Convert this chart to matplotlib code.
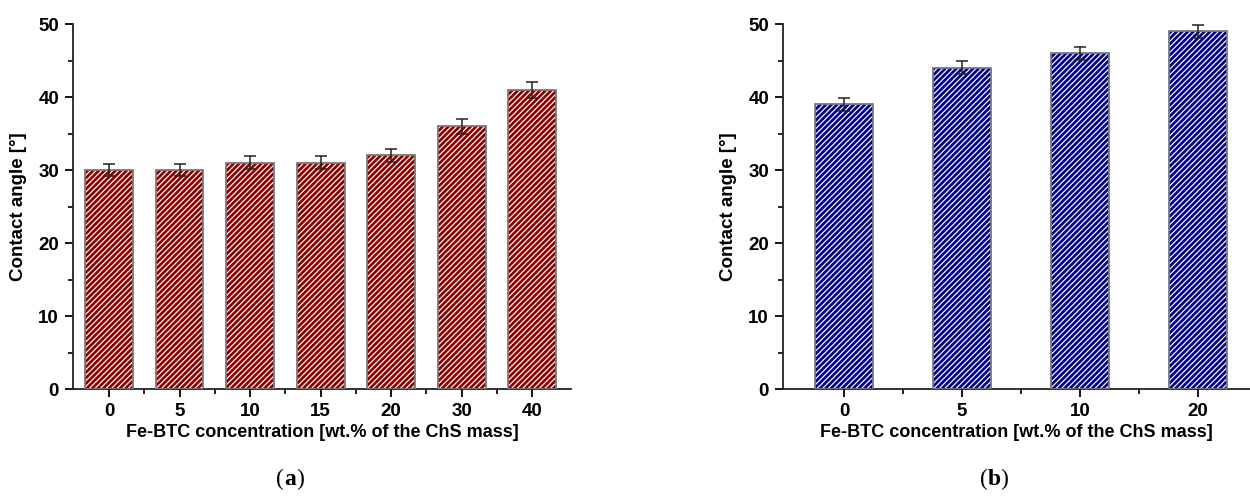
import numpy as np
import matplotlib.pyplot as plt
from matplotlib.ticker import MultipleLocator, FixedLocator

plt.rcParams['font.family'] = ['Liberation Sans', 'DejaVu Sans']
plt.rcParams['font.weight'] = 'bold'
plt.rcParams['hatch.linewidth'] = 0.85

# panel (a)
conc_a = ['0', '5', '10', '15', '20', '30', '40']
angle_a = [30, 30, 31, 31, 32, 36, 41]
err_a = [0.8, 0.8, 0.9, 0.9, 0.9, 1.0, 1.1]

# panel (b)
conc_b = ['0', '5', '10', '20']
angle_b = [39, 44, 46, 49]
err_b = [0.9, 0.9, 0.9, 0.9]

fig = plt.figure(figsize=(12.5, 4.96), dpi=100)
ax1 = fig.add_axes([0.0584, 0.2157, 0.3984, 0.7359])
ax2 = fig.add_axes([0.6264, 0.2157, 0.3736, 0.7359])


def draw(ax, labels, vals, errs, face, width, xlim):
    x = np.arange(len(labels))
    ax.bar(x, vals, width, color=face, edgecolor='white', hatch='//////',
           linewidth=0, zorder=2)
    ax.bar(x, vals, width, fill=False, edgecolor='#7a7a7a', linewidth=1.3, zorder=3)
    ax.errorbar(x, vals, yerr=errs, fmt='none', ecolor='#222222',
                elinewidth=1.1, capsize=4, capthick=1.1, zorder=4)
    ax.set_xlim(*xlim)
    ax.set_ylim(0, 50)
    ax.set_xticks(x)
    ax.set_xticklabels(labels)
    ax.xaxis.set_minor_locator(FixedLocator(x[:-1] + 0.5))
    ax.yaxis.set_major_locator(MultipleLocator(10))
    ax.yaxis.set_minor_locator(MultipleLocator(5))
    for s in ['top', 'right']:
        ax.spines[s].set_visible(False)
    for s in ['left', 'bottom']:
        ax.spines[s].set_linewidth(1.3)
        ax.spines[s].set_color('#222222')
    ax.tick_params(which='major', direction='out', length=6, width=1.3,
                   labelsize=13.5, pad=4)
    ax.tick_params(which='minor', direction='out', length=3.5, width=1.2)
    ax.set_xlabel('Fe-BTC concentration [wt.% of the ChS mass]',
                  fontsize=13, fontweight='bold', labelpad=3)
    ax.set_ylabel('Contact angle [°]', fontsize=13.5, fontweight='bold', labelpad=8)


draw(ax1, conc_a, angle_a, err_a, '#8c0000', 0.68, (-0.51, 6.55))
draw(ax2, conc_b, angle_b, err_b, '#000088', 0.49, (-0.517, 3.44))

# panel captions: bold letter in normal-weight parentheses
for xc, letter in [(0.2272, 'a'), (0.7904, 'b')]:
    kw = dict(fontsize=17, family='Liberation Serif', va='baseline')
    fig.text(xc, 0.022, '(', fontweight='normal', ha='right', **kw)
    fig.text(xc, 0.022, letter, fontweight='bold', ha='left', **kw)
    fig.text(xc + 0.0098, 0.022, ')', fontweight='normal', ha='left', **kw)

fig.savefig('out.png', dpi=100)
